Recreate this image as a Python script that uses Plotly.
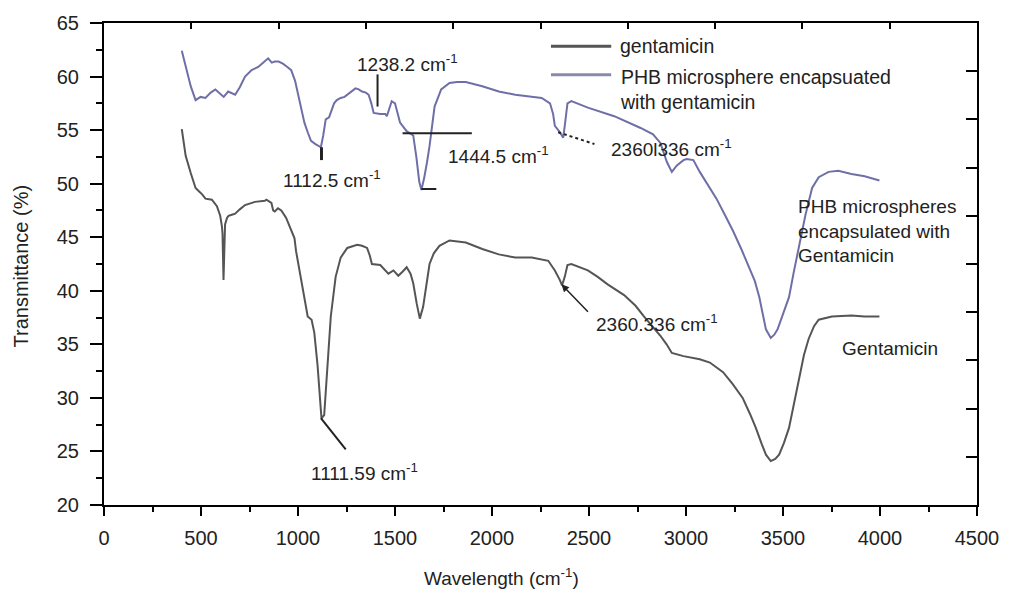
import plotly.graph_objects as go

# ---------------- data ----------------
phb_x = [401, 447, 472, 498, 523, 550, 574, 600, 617, 640, 659, 676, 700, 727, 761, 795, 820, 846, 865, 880,
         900, 922, 945, 965, 985, 999, 1016, 1033, 1050, 1067, 1090, 1110, 1118, 1130, 1143, 1160, 1175, 1186,
         1200, 1220, 1240, 1262, 1280, 1296, 1313, 1330, 1350, 1364, 1378, 1390, 1424, 1450, 1458, 1470, 1483,
         1500, 1512, 1526, 1560, 1594, 1610, 1625, 1636, 1650, 1665, 1678, 1704, 1738, 1781, 1820, 1865, 1950,
         2035, 2120, 2256, 2299, 2315, 2324, 2350, 2367, 2375, 2389, 2409, 2494, 2630, 2766, 2830, 2868, 2902,
         2927, 2953, 2987, 3003, 3038, 3071, 3110, 3157, 3200, 3242, 3285, 3327, 3355, 3378, 3395, 3412, 3437,
         3455, 3472, 3500, 3531, 3555, 3582, 3616, 3650, 3684, 3735, 3785, 3853, 3921, 3997]
phb_y = [62.4, 59.1, 57.8, 58.1, 58.0, 58.5, 58.8, 58.4, 58.1, 58.6, 58.4, 58.3, 59.0, 60.0, 60.6, 60.9, 61.3, 61.7,
         61.3, 61.4, 61.4, 61.2, 60.9, 60.6, 59.6, 58.5, 57.0, 55.7, 54.8, 54.0, 53.7, 53.5, 53.4, 54.5, 56.0,
         56.2, 57.0, 57.5, 57.8, 58.0, 58.1, 58.4, 58.7, 58.9, 58.8, 58.6, 58.5, 58.3, 57.5, 56.6, 56.5, 56.5,
         56.3, 57.0, 57.7, 57.5, 56.6, 55.7, 54.9, 54.5, 52.5, 50.2, 49.4, 50.5, 52.0, 53.5, 57.2, 58.8, 59.4,
         59.5, 59.5, 59.1, 58.6, 58.3, 58.0, 57.5, 56.5, 55.4, 54.8, 54.3, 55.4, 57.5, 57.7, 57.1, 56.3, 55.2,
         54.6, 53.8, 52.0, 51.1, 51.7, 52.2, 52.3, 52.2, 51.1, 50.0, 48.6, 47.1, 45.6, 43.9, 42.2, 40.9, 39.4,
         38.0, 36.4, 35.6, 35.9, 36.4, 37.8, 39.4, 41.7, 44.0, 47.1, 49.6, 50.6, 51.1, 51.2, 50.9, 50.7, 50.3]

gen_x = [401, 421, 447, 464, 472, 489, 506, 523, 556, 582, 599, 608, 611, 616, 620, 624, 634, 642, 659, 676, 700,
         727, 778, 829, 837, 863, 872, 880, 897, 914, 939, 965, 982, 990, 1016, 1050, 1070, 1084, 1101, 1112,
         1121, 1135, 1152, 1169, 1194, 1220, 1254, 1305, 1330, 1356, 1370, 1381, 1424, 1445, 1466, 1492, 1517,
         1540, 1560, 1580, 1594, 1612, 1628, 1645, 1660, 1678, 1700, 1729, 1781, 1865, 1950, 2035, 2120, 2205,
         2290, 2324, 2350, 2361, 2375, 2389, 2409, 2494, 2545, 2596, 2681, 2740, 2783, 2830, 2868, 2900, 2927,
         2987, 3071, 3123, 3191, 3240, 3292, 3330, 3360, 3390, 3412, 3437, 3460, 3480, 3505, 3531, 3555, 3582,
         3608, 3632, 3660, 3684, 3752, 3853, 3920, 3997]
gen_y = [55.1, 52.6, 51.0, 49.9, 49.6, 49.3, 49.0, 48.6, 48.5, 47.9, 47.0, 46.0, 45.3, 41.0, 43.0, 46.2, 46.8, 47.0,
         47.1, 47.2, 47.6, 48.0, 48.3, 48.4, 48.5, 48.2, 47.5, 47.4, 47.7, 47.5, 46.8, 45.6, 44.9, 43.7, 41.0,
         37.6, 37.3, 36.1, 33.0, 30.0, 28.1, 28.4, 33.0, 37.6, 41.3, 43.1, 44.0, 44.3, 44.2, 44.0, 43.3, 42.5,
         42.4, 42.0, 41.6, 41.9, 41.4, 41.8, 42.2, 41.6, 40.7, 38.8, 37.4, 38.5, 40.5, 42.5, 43.5, 44.2, 44.7,
         44.5, 43.9, 43.4, 43.1, 43.1, 42.8, 41.9, 41.0, 40.5, 41.3, 42.4, 42.5, 41.9, 41.3, 40.6, 39.6, 38.6,
         37.6, 36.6, 35.8, 35.0, 34.2, 33.9, 33.6, 33.3, 32.4, 31.3, 30.0, 28.5, 27.2, 25.7, 24.7, 24.1, 24.3,
         24.7, 25.8, 27.2, 29.3, 31.8, 34.0, 35.5, 36.7, 37.3, 37.6, 37.7, 37.6, 37.6]

# peak labels: text, left x, centre y
label_text = ["1238.2 cm<sup>-1</sup>", "1112.5 cm<sup>-1</sup>", "1444.5 cm<sup>-1</sup>",
              "2360l336 cm<sup>-1</sup>", "2360.336 cm<sup>-1</sup>", "1111.59 cm<sup>-1</sup>",
              "PHB microspheres<br>encapsulated with<br>Gentamicin", "Gentamicin"]
label_x = [1295, 912, 1763, 2605, 2528, 1055, 3568, 3792]
label_y = [61.3, 50.4, 52.7, 53.3, 37.0, 23.1, 45.6, 34.6]

# leader lines: x0, y0, x1, y1, style
lead_x0 = [1410, 1121, 1539, 1636, 2341, 1118]
lead_y0 = [60.2, 53.4, 54.7, 49.5, 54.8, 28.1]
lead_x1 = [1410, 1121, 1896, 1713, 2528, 1246]
lead_y1 = [57.2, 52.2, 54.7, 49.5, 53.7, 25.2]
lead_dash = ["solid", "solid", "solid", "solid", "dot", "solid"]
lead_w = [2, 3, 2, 2, 2, 2]

# arrow for 2360.336
arrow_tip = (2358, 40.6)
arrow_tail = (2502, 37.9)

legend_names = ["gentamicin", "PHB microsphere encapsuated<br>with gentamicin"]

x_ticks = list(range(0, 4501, 500))
y_ticks = list(range(20, 66, 5))
top_ticks = [450 * k for k in range(1, 10)]
right_ticks = [20 + 4.5 * k for k in range(1, 10)]

GEN_COLOR = "#555555"
PHB_COLOR = "#6f6fa8"
FONT = "Liberation Sans, Arial, sans-serif"

fig = go.Figure()
fig.add_trace(go.Scatter(x=gen_x, y=gen_y, mode="lines", name="gentamicin",
                         line=dict(color=GEN_COLOR, width=2), showlegend=False))
fig.add_trace(go.Scatter(x=phb_x, y=phb_y, mode="lines", name="PHB microsphere encapsuated with gentamicin",
                         line=dict(color=PHB_COLOR, width=2), showlegend=False))
# dummy trace to carry the mirrored top/right axes
fig.add_trace(go.Scatter(x=[None], y=[None], xaxis="x2", yaxis="y2", showlegend=False, hoverinfo="skip"))

for i in range(len(lead_x0)):
    fig.add_shape(type="line", x0=lead_x0[i], y0=lead_y0[i], x1=lead_x1[i], y1=lead_y1[i],
                  xref="x", yref="y", line=dict(color="#222222", width=lead_w[i], dash=lead_dash[i]))

fig.add_annotation(x=arrow_tip[0], y=arrow_tip[1], ax=arrow_tail[0], ay=arrow_tail[1],
                   xref="x", yref="y", axref="x", ayref="y", text="", showarrow=True,
                   arrowhead=2, arrowsize=1, arrowwidth=1.5, arrowcolor="#222222")

for t, x, y in zip(label_text, label_x, label_y):
    fig.add_annotation(x=x, y=y, xref="x", yref="y", text=t, showarrow=False,
                       xanchor="left", yanchor="middle", align="left",
                       font=dict(family=FONT, size=19, color="#222222"))

# manual legend (paper coordinates)
leg_line_y = [0.952, 0.8925]
leg_text_y = [0.952, 0.863]
leg_colors = [GEN_COLOR, "#8a8aaa"]
for name, ly, ty, c in zip(legend_names, leg_line_y, leg_text_y, leg_colors):
    fig.add_shape(type="line", xref="paper", yref="paper", x0=0.512, x1=0.581, y0=ly, y1=ly,
                  line=dict(color=c, width=3))
    fig.add_annotation(xref="paper", yref="paper", x=0.589, y=ty, text=name, showarrow=False,
                       xanchor="left", yanchor="middle", align="left",
                       font=dict(family=FONT, size=19.5, color="#222222"))

# axis titles
fig.add_annotation(xref="paper", yref="paper", x=0.455, y=-0.15, text="Wavelength (cm<sup>-1</sup>)",
                   showarrow=False, xanchor="center", yanchor="middle",
                   font=dict(family=FONT, size=19, color="#222222"))
fig.add_annotation(xref="paper", yref="paper", x=-0.095, y=0.495, text="Transmittance (%)",
                   showarrow=False, textangle=-90, xanchor="center", yanchor="middle",
                   font=dict(family=FONT, size=20, color="#222222"))

fig.update_layout(
    width=1011, height=590,
    margin=dict(l=104, r=24, t=15, b=85),
    paper_bgcolor="white", plot_bgcolor="white",
    font=dict(family=FONT, size=20, color="#222222"),
    xaxis=dict(range=[0, 4500], tickvals=x_ticks, ticks="outside", ticklen=9, tickwidth=2,
               tickcolor="black", showline=True, linewidth=2, linecolor="black", mirror=True,
               showgrid=False, zeroline=False, ticklabelstandoff=5, tickfont=dict(size=20),
               minor=dict(dtick=250, ticks="outside", ticklen=5, tickwidth=2, tickcolor="black")),
    yaxis=dict(range=[20, 65], tickvals=y_ticks, ticks="outside", ticklen=12, tickwidth=2,
               tickcolor="black", showline=True, linewidth=2, linecolor="black", mirror=True,
               showgrid=False, zeroline=False, ticklabelstandoff=7, tickfont=dict(size=20),
               minor=dict(dtick=2.5, ticks="outside", ticklen=6, tickwidth=2, tickcolor="black")),
    xaxis2=dict(overlaying="x", side="top", range=[0, 4500], tickvals=top_ticks, ticks="inside",
                ticklen=6, tickwidth=2, tickcolor="black", showticklabels=False, showline=False,
                showgrid=False, zeroline=False),
    yaxis2=dict(overlaying="y", side="right", range=[20, 65], tickvals=right_ticks, ticks="inside",
                ticklen=11, tickwidth=2, tickcolor="black", showticklabels=False, showline=False,
                showgrid=False, zeroline=False),
    showlegend=False,
)

fig.write_html("out.html")
